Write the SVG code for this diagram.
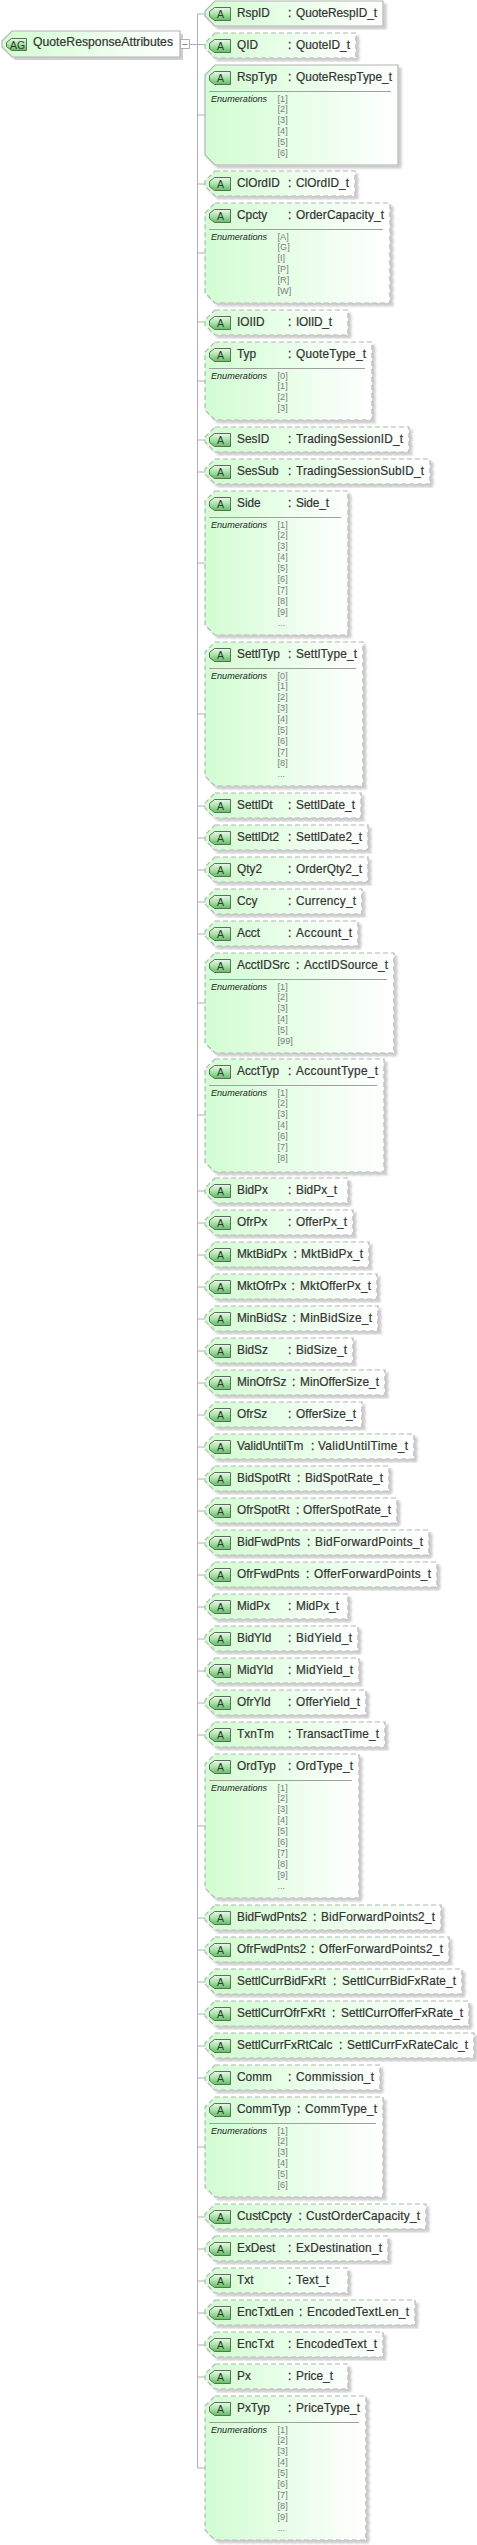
<svg xmlns="http://www.w3.org/2000/svg" width="477" height="2545" viewBox="0 0 477 2545">
<style>
text{font-family:"Liberation Sans",Arial,sans-serif;fill:#333}
.t{font-size:11.85px;stroke:#333;stroke-width:.2}
.k{font-size:11.85px;stroke:#333;stroke-width:.3}
.a{font-size:10.5px;text-anchor:middle;fill:#2a3a2a}
.b{fill:url(#fill);stroke:#b4b4b4;stroke-width:1.2;filter:url(#sh)}
.d{stroke-dasharray:5 3}
.e{font-size:9.1px;font-style:italic;fill:#222}
.v{font-size:9.2px;fill:#7c7c7c}
.r{stroke:#a0a0a0;stroke-width:1}
.c{stroke:#b0b0b0;stroke-width:1;fill:none}
.i{fill:url(#bdg);stroke:#5c6e5c;stroke-width:1}
</style>
<defs>
<linearGradient id="fill" x1="0" y1="0" x2="1" y2="0"><stop offset="0" stop-color="#d2fdd2"/><stop offset="1" stop-color="#ffffff"/></linearGradient>
<linearGradient id="bdg" x1="0" y1="0" x2="0" y2="1"><stop offset="0" stop-color="#eef8ee"/><stop offset="0.5" stop-color="#a8e2a8"/><stop offset="1" stop-color="#62bb62"/></linearGradient>
<filter id="sh" x="-5%" y="-10%" width="112%" height="125%"><feDropShadow dx="3" dy="3" stdDeviation="1" flood-color="#000" flood-opacity="0.2"/></filter>
<polygon id="badge" class="i" points="214.5,6.5 230.5,6.5 230.5,19.5 214.5,19.5 209.5,15.5 209.5,10.5"/>
</defs>
<g id="connectors">
<path class="c" d="M197.5 14V2468M190 44.5H205M197.5 14H205M197.5 115H205M197.5 184H205M197.5 253H205M197.5 322H205M197.5 381H205M197.5 440H205M197.5 472H205M197.5 563H205M197.5 714H205M197.5 806H205M197.5 838H205M197.5 870H205M197.5 902H205M197.5 934H205M197.5 1003H205M197.5 1115H205M197.5 1191H205M197.5 1223H205M197.5 1255H205M197.5 1287H205M197.5 1319H205M197.5 1351H205M197.5 1383H205M197.5 1415H205M197.5 1447H205M197.5 1479H205M197.5 1511H205M197.5 1543H205M197.5 1575H205M197.5 1607H205M197.5 1639H205M197.5 1671H205M197.5 1703H205M197.5 1735H205M197.5 1826H205M197.5 1918H205M197.5 1950H205M197.5 1982H205M197.5 2014H205M197.5 2046H205M197.5 2078H205M197.5 2147H205M197.5 2217H205M197.5 2249H205M197.5 2281H205M197.5 2313H205M197.5 2345H205M197.5 2377H205M197.5 2468H205"/>
</g>
<g id="group-QuoteResponseAttributes">
<polygon points="15,34 183,34 183,60 15,60 5,50 5,44" fill="#cfcfcf"/>
<polygon points="12,31 180,31 180,57 12,57 2,47 2,41" fill="url(#fill)" stroke="#b4b4b4" stroke-width="1.2"/>
<polygon class="i" points="11.5,38.5 26.5,38.5 26.5,50.5 11.5,50.5 6.5,46.5 6.5,42.5"/>
<text class="a" x="17.5" y="49" font-size="11">AG</text>
<text x="33" y="46" font-size="12.2" textLength="140" stroke="#333" stroke-width=".2">QuoteResponseAttributes</text>
<rect x="180.5" y="39.5" width="9" height="9" fill="#fff" stroke="#b0b0b0"/>
<path d="M182.5 44.5H187.5" stroke="#888"/>
</g>
<g id="n-RspID"><polygon class="b" points="215,1 383,1 383,26 215,26 205,16 205,11"/><use href="#badge" y="1"/><text class="a" x="220.5" y="18">A</text><text class="t" x="237" y="17">RspID</text><text class="k" x="288" y="17">:</text><text class="t" x="296" y="17" textLength="81">QuoteRespID_t</text></g>
<g id="n-QID"><polygon class="b d" points="215,33 356,33 356,58 215,58 205,48 205,43"/><use href="#badge" y="33"/><text class="a" x="220.5" y="50">A</text><text class="t" x="237" y="49">QID</text><text class="k" x="288" y="49">:</text><text class="t" x="296" y="49" textLength="54">QuoteID_t</text></g>
<g id="n-RspTyp"><polygon class="b" points="215,65 398,65 398,165 215,165 205,155 205,75"/><use href="#badge" y="65"/><text class="a" x="220.5" y="82">A</text><text class="t" x="237" y="81">RspTyp</text><text class="k" x="288" y="81">:</text><text class="t" x="296" y="81" textLength="96">QuoteRespType_t</text><path class="r" d="M209 91.5H391"/><text class="e" x="211" y="102">Enumerations</text><text class="v" x="277.5" y="102">[1]</text><text class="v" x="277.5" y="112">[2]</text><text class="v" x="277.5" y="123">[3]</text><text class="v" x="277.5" y="134">[4]</text><text class="v" x="277.5" y="145">[5]</text><text class="v" x="277.5" y="156">[6]</text></g>
<g id="n-ClOrdID"><polygon class="b d" points="215,171 355,171 355,196 215,196 205,186 205,181"/><use href="#badge" y="171"/><text class="a" x="220.5" y="188">A</text><text class="t" x="237" y="187">ClOrdID</text><text class="k" x="288" y="187">:</text><text class="t" x="296" y="187" textLength="53">ClOrdID_t</text></g>
<g id="n-Cpcty"><polygon class="b d" points="215,203 390,203 390,303 215,303 205,293 205,213"/><use href="#badge" y="203"/><text class="a" x="220.5" y="220">A</text><text class="t" x="237" y="219">Cpcty</text><text class="k" x="288" y="219">:</text><text class="t" x="296" y="219" textLength="88">OrderCapacity_t</text><path class="r" d="M209 229.5H383"/><text class="e" x="211" y="240">Enumerations</text><text class="v" x="277.5" y="240">[A]</text><text class="v" x="277.5" y="250">[G]</text><text class="v" x="277.5" y="261">[I]</text><text class="v" x="277.5" y="272">[P]</text><text class="v" x="277.5" y="283">[R]</text><text class="v" x="277.5" y="294">[W]</text></g>
<g id="n-IOIID"><polygon class="b d" points="215,310 348,310 348,335 215,335 205,325 205,320"/><use href="#badge" y="310"/><text class="a" x="220.5" y="327">A</text><text class="t" x="237" y="326">IOIID</text><text class="k" x="288" y="326">:</text><text class="t" x="296" y="326" textLength="36">IOIID_t</text></g>
<g id="n-Typ"><polygon class="b d" points="215,342 372,342 372,420 215,420 205,410 205,352"/><use href="#badge" y="342"/><text class="a" x="220.5" y="359">A</text><text class="t" x="237" y="358">Typ</text><text class="k" x="288" y="358">:</text><text class="t" x="296" y="358" textLength="70">QuoteType_t</text><path class="r" d="M209 368.5H365"/><text class="e" x="211" y="379">Enumerations</text><text class="v" x="277.5" y="379">[0]</text><text class="v" x="277.5" y="389">[1]</text><text class="v" x="277.5" y="400">[2]</text><text class="v" x="277.5" y="411">[3]</text></g>
<g id="n-SesID"><polygon class="b d" points="215,427 409,427 409,452 215,452 205,442 205,437"/><use href="#badge" y="427"/><text class="a" x="220.5" y="444">A</text><text class="t" x="237" y="443">SesID</text><text class="k" x="288" y="443">:</text><text class="t" x="296" y="443" textLength="107">TradingSessionID_t</text></g>
<g id="n-SesSub"><polygon class="b d" points="215,459 430,459 430,484 215,484 205,474 205,469"/><use href="#badge" y="459"/><text class="a" x="220.5" y="476">A</text><text class="t" x="237" y="475">SesSub</text><text class="k" x="288" y="475">:</text><text class="t" x="296" y="475" textLength="128">TradingSessionSubID_t</text></g>
<g id="n-Side"><polygon class="b d" points="215,491 348,491 348,635 215,635 205,625 205,501"/><use href="#badge" y="491"/><text class="a" x="220.5" y="508">A</text><text class="t" x="237" y="507">Side</text><text class="k" x="288" y="507">:</text><text class="t" x="296" y="507" textLength="33">Side_t</text><path class="r" d="M209 517.5H341"/><text class="e" x="211" y="528">Enumerations</text><text class="v" x="277.5" y="528">[1]</text><text class="v" x="277.5" y="538">[2]</text><text class="v" x="277.5" y="549">[3]</text><text class="v" x="277.5" y="560">[4]</text><text class="v" x="277.5" y="571">[5]</text><text class="v" x="277.5" y="582">[6]</text><text class="v" x="277.5" y="593">[7]</text><text class="v" x="277.5" y="604">[8]</text><text class="v" x="277.5" y="615">[9]</text><text class="v" x="277.5" y="626">...</text></g>
<g id="n-SettlTyp"><polygon class="b d" points="215,642 363,642 363,786 215,786 205,776 205,652"/><use href="#badge" y="642"/><text class="a" x="220.5" y="659">A</text><text class="t" x="237" y="658">SettlTyp</text><text class="k" x="288" y="658">:</text><text class="t" x="296" y="658" textLength="61">SettlType_t</text><path class="r" d="M209 668.5H356"/><text class="e" x="211" y="679">Enumerations</text><text class="v" x="277.5" y="679">[0]</text><text class="v" x="277.5" y="689">[1]</text><text class="v" x="277.5" y="700">[2]</text><text class="v" x="277.5" y="711">[3]</text><text class="v" x="277.5" y="722">[4]</text><text class="v" x="277.5" y="733">[5]</text><text class="v" x="277.5" y="744">[6]</text><text class="v" x="277.5" y="755">[7]</text><text class="v" x="277.5" y="766">[8]</text><text class="v" x="277.5" y="777">...</text></g>
<g id="n-SettlDt"><polygon class="b d" points="215,793 361,793 361,818 215,818 205,808 205,803"/><use href="#badge" y="793"/><text class="a" x="220.5" y="810">A</text><text class="t" x="237" y="809">SettlDt</text><text class="k" x="288" y="809">:</text><text class="t" x="296" y="809" textLength="59">SettlDate_t</text></g>
<g id="n-SettlDt2"><polygon class="b d" points="215,825 368,825 368,850 215,850 205,840 205,835"/><use href="#badge" y="825"/><text class="a" x="220.5" y="842">A</text><text class="t" x="237" y="841">SettlDt2</text><text class="k" x="288" y="841">:</text><text class="t" x="296" y="841" textLength="66">SettlDate2_t</text></g>
<g id="n-Qty2"><polygon class="b d" points="215,857 368,857 368,882 215,882 205,872 205,867"/><use href="#badge" y="857"/><text class="a" x="220.5" y="874">A</text><text class="t" x="237" y="873">Qty2</text><text class="k" x="288" y="873">:</text><text class="t" x="296" y="873" textLength="66">OrderQty2_t</text></g>
<g id="n-Ccy"><polygon class="b d" points="215,889 362,889 362,914 215,914 205,904 205,899"/><use href="#badge" y="889"/><text class="a" x="220.5" y="906">A</text><text class="t" x="237" y="905">Ccy</text><text class="k" x="288" y="905">:</text><text class="t" x="296" y="905" textLength="60">Currency_t</text></g>
<g id="n-Acct"><polygon class="b d" points="215,921 358,921 358,946 215,946 205,936 205,931"/><use href="#badge" y="921"/><text class="a" x="220.5" y="938">A</text><text class="t" x="237" y="937">Acct</text><text class="k" x="288" y="937">:</text><text class="t" x="296" y="937" textLength="56">Account_t</text></g>
<g id="n-AcctIDSrc"><polygon class="b d" points="215,953 394,953 394,1053 215,1053 205,1043 205,963"/><use href="#badge" y="953"/><text class="a" x="220.5" y="970">A</text><text class="t" x="237" y="969">AcctIDSrc</text><text class="k" x="296" y="969">:</text><text class="t" x="304" y="969" textLength="84">AcctIDSource_t</text><path class="r" d="M209 979.5H387"/><text class="e" x="211" y="990">Enumerations</text><text class="v" x="277.5" y="990">[1]</text><text class="v" x="277.5" y="1000">[2]</text><text class="v" x="277.5" y="1011">[3]</text><text class="v" x="277.5" y="1022">[4]</text><text class="v" x="277.5" y="1033">[5]</text><text class="v" x="277.5" y="1044">[99]</text></g>
<g id="n-AcctTyp"><polygon class="b d" points="215,1059 384,1059 384,1172 215,1172 205,1162 205,1069"/><use href="#badge" y="1059"/><text class="a" x="220.5" y="1076">A</text><text class="t" x="237" y="1075">AcctTyp</text><text class="k" x="288" y="1075">:</text><text class="t" x="296" y="1075" textLength="82">AccountType_t</text><path class="r" d="M209 1085.5H377"/><text class="e" x="211" y="1096">Enumerations</text><text class="v" x="277.5" y="1096">[1]</text><text class="v" x="277.5" y="1106">[2]</text><text class="v" x="277.5" y="1117">[3]</text><text class="v" x="277.5" y="1128">[4]</text><text class="v" x="277.5" y="1139">[6]</text><text class="v" x="277.5" y="1150">[7]</text><text class="v" x="277.5" y="1161">[8]</text></g>
<g id="n-BidPx"><polygon class="b d" points="215,1178 348,1178 348,1203 215,1203 205,1193 205,1188"/><use href="#badge" y="1178"/><text class="a" x="220.5" y="1195">A</text><text class="t" x="237" y="1194">BidPx</text><text class="k" x="288" y="1194">:</text><text class="t" x="296" y="1194" textLength="41">BidPx_t</text></g>
<g id="n-OfrPx"><polygon class="b d" points="215,1210 353,1210 353,1235 215,1235 205,1225 205,1220"/><use href="#badge" y="1210"/><text class="a" x="220.5" y="1227">A</text><text class="t" x="237" y="1226">OfrPx</text><text class="k" x="288" y="1226">:</text><text class="t" x="296" y="1226" textLength="51">OfferPx_t</text></g>
<g id="n-MktBidPx"><polygon class="b d" points="215,1242 369,1242 369,1267 215,1267 205,1257 205,1252"/><use href="#badge" y="1242"/><text class="a" x="220.5" y="1259">A</text><text class="t" x="237" y="1258">MktBidPx</text><text class="k" x="293.500" y="1258">:</text><text class="t" x="301" y="1258" textLength="62">MktBidPx_t</text></g>
<g id="n-MktOfrPx"><polygon class="b d" points="215,1274 377,1274 377,1299 215,1299 205,1289 205,1284"/><use href="#badge" y="1274"/><text class="a" x="220.5" y="1291">A</text><text class="t" x="237" y="1290">MktOfrPx</text><text class="k" x="291.500" y="1290">:</text><text class="t" x="300" y="1290" textLength="71">MktOfferPx_t</text></g>
<g id="n-MinBidSz"><polygon class="b d" points="215,1306 378,1306 378,1331 215,1331 205,1321 205,1316"/><use href="#badge" y="1306"/><text class="a" x="220.5" y="1323">A</text><text class="t" x="237" y="1322">MinBidSz</text><text class="k" x="292.500" y="1322">:</text><text class="t" x="300" y="1322" textLength="72">MinBidSize_t</text></g>
<g id="n-BidSz"><polygon class="b d" points="215,1338 353,1338 353,1363 215,1363 205,1353 205,1348"/><use href="#badge" y="1338"/><text class="a" x="220.5" y="1355">A</text><text class="t" x="237" y="1354">BidSz</text><text class="k" x="288" y="1354">:</text><text class="t" x="296" y="1354" textLength="51">BidSize_t</text></g>
<g id="n-MinOfrSz"><polygon class="b d" points="215,1370 385,1370 385,1395 215,1395 205,1385 205,1380"/><use href="#badge" y="1370"/><text class="a" x="220.5" y="1387">A</text><text class="t" x="237" y="1386">MinOfrSz</text><text class="k" x="292" y="1386">:</text><text class="t" x="300" y="1386" textLength="79">MinOfferSize_t</text></g>
<g id="n-OfrSz"><polygon class="b d" points="215,1402 362,1402 362,1427 215,1427 205,1417 205,1412"/><use href="#badge" y="1402"/><text class="a" x="220.5" y="1419">A</text><text class="t" x="237" y="1418">OfrSz</text><text class="k" x="288" y="1418">:</text><text class="t" x="296" y="1418" textLength="60">OfferSize_t</text></g>
<g id="n-ValidUntilTm"><polygon class="b d" points="215,1434 414,1434 414,1459 215,1459 205,1449 205,1444"/><use href="#badge" y="1434"/><text class="a" x="220.5" y="1451">A</text><text class="t" x="237" y="1450">ValidUntilTm</text><text class="k" x="311" y="1450">:</text><text class="t" x="318" y="1450" textLength="90">ValidUntilTime_t</text></g>
<g id="n-BidSpotRt"><polygon class="b d" points="215,1466 389,1466 389,1491 215,1491 205,1481 205,1476"/><use href="#badge" y="1466"/><text class="a" x="220.5" y="1483">A</text><text class="t" x="237" y="1482">BidSpotRt</text><text class="k" x="297" y="1482">:</text><text class="t" x="305" y="1482" textLength="78">BidSpotRate_t</text></g>
<g id="n-OfrSpotRt"><polygon class="b d" points="215,1498 397,1498 397,1523 215,1523 205,1513 205,1508"/><use href="#badge" y="1498"/><text class="a" x="220.5" y="1515">A</text><text class="t" x="237" y="1514">OfrSpotRt</text><text class="k" x="296" y="1514">:</text><text class="t" x="303" y="1514" textLength="88">OfferSpotRate_t</text></g>
<g id="n-BidFwdPnts"><polygon class="b d" points="215,1530 429,1530 429,1555 215,1555 205,1545 205,1540"/><use href="#badge" y="1530"/><text class="a" x="220.5" y="1547">A</text><text class="t" x="237" y="1546">BidFwdPnts</text><text class="k" x="307" y="1546">:</text><text class="t" x="315" y="1546" textLength="108">BidForwardPoints_t</text></g>
<g id="n-OfrFwdPnts"><polygon class="b d" points="215,1562 437,1562 437,1587 215,1587 205,1577 205,1572"/><use href="#badge" y="1562"/><text class="a" x="220.5" y="1579">A</text><text class="t" x="237" y="1578">OfrFwdPnts</text><text class="k" x="306" y="1578">:</text><text class="t" x="314" y="1578" textLength="117">OfferForwardPoints_t</text></g>
<g id="n-MidPx"><polygon class="b d" points="215,1594 348,1594 348,1619 215,1619 205,1609 205,1604"/><use href="#badge" y="1594"/><text class="a" x="220.5" y="1611">A</text><text class="t" x="237" y="1610">MidPx</text><text class="k" x="288" y="1610">:</text><text class="t" x="296" y="1610" textLength="43">MidPx_t</text></g>
<g id="n-BidYld"><polygon class="b d" points="215,1626 358,1626 358,1651 215,1651 205,1641 205,1636"/><use href="#badge" y="1626"/><text class="a" x="220.5" y="1643">A</text><text class="t" x="237" y="1642">BidYld</text><text class="k" x="288" y="1642">:</text><text class="t" x="296" y="1642" textLength="56">BidYield_t</text></g>
<g id="n-MidYld"><polygon class="b d" points="215,1658 359,1658 359,1683 215,1683 205,1673 205,1668"/><use href="#badge" y="1658"/><text class="a" x="220.5" y="1675">A</text><text class="t" x="237" y="1674">MidYld</text><text class="k" x="288" y="1674">:</text><text class="t" x="296" y="1674" textLength="57">MidYield_t</text></g>
<g id="n-OfrYld"><polygon class="b d" points="215,1690 366,1690 366,1715 215,1715 205,1705 205,1700"/><use href="#badge" y="1690"/><text class="a" x="220.5" y="1707">A</text><text class="t" x="237" y="1706">OfrYld</text><text class="k" x="288" y="1706">:</text><text class="t" x="296" y="1706" textLength="64">OfferYield_t</text></g>
<g id="n-TxnTm"><polygon class="b d" points="215,1722 385,1722 385,1747 215,1747 205,1737 205,1732"/><use href="#badge" y="1722"/><text class="a" x="220.5" y="1739">A</text><text class="t" x="237" y="1738">TxnTm</text><text class="k" x="288" y="1738">:</text><text class="t" x="296" y="1738" textLength="83">TransactTime_t</text></g>
<g id="n-OrdTyp"><polygon class="b d" points="215,1754 359,1754 359,1898 215,1898 205,1888 205,1764"/><use href="#badge" y="1754"/><text class="a" x="220.5" y="1771">A</text><text class="t" x="237" y="1770">OrdTyp</text><text class="k" x="288" y="1770">:</text><text class="t" x="296" y="1770" textLength="57">OrdType_t</text><path class="r" d="M209 1780.500H352"/><text class="e" x="211" y="1791">Enumerations</text><text class="v" x="277.5" y="1791">[1]</text><text class="v" x="277.5" y="1801">[2]</text><text class="v" x="277.5" y="1812">[3]</text><text class="v" x="277.5" y="1823">[4]</text><text class="v" x="277.5" y="1834">[5]</text><text class="v" x="277.5" y="1845">[6]</text><text class="v" x="277.5" y="1856">[7]</text><text class="v" x="277.5" y="1867">[8]</text><text class="v" x="277.5" y="1878">[9]</text><text class="v" x="277.5" y="1889">...</text></g>
<g id="n-BidFwdPnts2"><polygon class="b d" points="215,1905 441,1905 441,1930 215,1930 205,1920 205,1915"/><use href="#badge" y="1905"/><text class="a" x="220.5" y="1922">A</text><text class="t" x="237" y="1921">BidFwdPnts2</text><text class="k" x="313" y="1921">:</text><text class="t" x="321" y="1921" textLength="114">BidForwardPoints2_t</text></g>
<g id="n-OfrFwdPnts2"><polygon class="b d" points="215,1937 449,1937 449,1962 215,1962 205,1952 205,1947"/><use href="#badge" y="1937"/><text class="a" x="220.5" y="1954">A</text><text class="t" x="237" y="1953">OfrFwdPnts2</text><text class="k" x="311" y="1953">:</text><text class="t" x="319" y="1953" textLength="124">OfferForwardPoints2_t</text></g>
<g id="n-SettlCurrBidFxRt"><polygon class="b d" points="215,1969 462,1969 462,1994 215,1994 205,1984 205,1979"/><use href="#badge" y="1969"/><text class="a" x="220.5" y="1986">A</text><text class="t" x="237" y="1985">SettlCurrBidFxRt</text><text class="k" x="333" y="1985">:</text><text class="t" x="342" y="1985" textLength="114">SettlCurrBidFxRate_t</text></g>
<g id="n-SettlCurrOfrFxRt"><polygon class="b d" points="215,2001 469,2001 469,2026 215,2026 205,2016 205,2011"/><use href="#badge" y="2001"/><text class="a" x="220.5" y="2018">A</text><text class="t" x="237" y="2017">SettlCurrOfrFxRt</text><text class="k" x="332" y="2017">:</text><text class="t" x="341" y="2017" textLength="122">SettlCurrOfferFxRate_t</text></g>
<g id="n-SettlCurrFxRtCalc"><polygon class="b d" points="215,2033 474,2033 474,2058 215,2058 205,2048 205,2043"/><use href="#badge" y="2033"/><text class="a" x="220.5" y="2050">A</text><text class="t" x="237" y="2049">SettlCurrFxRtCalc</text><text class="k" x="339" y="2049">:</text><text class="t" x="347" y="2049" textLength="121">SettlCurrFxRateCalc_t</text></g>
<g id="n-Comm"><polygon class="b d" points="215,2065 380,2065 380,2090 215,2090 205,2080 205,2075"/><use href="#badge" y="2065"/><text class="a" x="220.5" y="2082">A</text><text class="t" x="237" y="2081">Comm</text><text class="k" x="288" y="2081">:</text><text class="t" x="296" y="2081" textLength="78">Commission_t</text></g>
<g id="n-CommTyp"><polygon class="b d" points="215,2097 383,2097 383,2197 215,2197 205,2187 205,2107"/><use href="#badge" y="2097"/><text class="a" x="220.5" y="2114">A</text><text class="t" x="237" y="2113">CommTyp</text><text class="k" x="297" y="2113">:</text><text class="t" x="305" y="2113" textLength="72">CommType_t</text><path class="r" d="M209 2123.500H376"/><text class="e" x="211" y="2134">Enumerations</text><text class="v" x="277.5" y="2134">[1]</text><text class="v" x="277.5" y="2144">[2]</text><text class="v" x="277.5" y="2155">[3]</text><text class="v" x="277.5" y="2166">[4]</text><text class="v" x="277.5" y="2177">[5]</text><text class="v" x="277.5" y="2188">[6]</text></g>
<g id="n-CustCpcty"><polygon class="b d" points="215,2204 426,2204 426,2229 215,2229 205,2219 205,2214"/><use href="#badge" y="2204"/><text class="a" x="220.5" y="2221">A</text><text class="t" x="237" y="2220">CustCpcty</text><text class="k" x="298.500" y="2220">:</text><text class="t" x="306" y="2220" textLength="114">CustOrderCapacity_t</text></g>
<g id="n-ExDest"><polygon class="b d" points="215,2236 388,2236 388,2261 215,2261 205,2251 205,2246"/><use href="#badge" y="2236"/><text class="a" x="220.5" y="2253">A</text><text class="t" x="237" y="2252">ExDest</text><text class="k" x="288" y="2252">:</text><text class="t" x="296" y="2252" textLength="86">ExDestination_t</text></g>
<g id="n-Txt"><polygon class="b d" points="215,2268 348,2268 348,2293 215,2293 205,2283 205,2278"/><use href="#badge" y="2268"/><text class="a" x="220.5" y="2285">A</text><text class="t" x="237" y="2284">Txt</text><text class="k" x="288" y="2284">:</text><text class="t" x="296" y="2284" textLength="33">Text_t</text></g>
<g id="n-EncTxtLen"><polygon class="b d" points="215,2300 415,2300 415,2325 215,2325 205,2315 205,2310"/><use href="#badge" y="2300"/><text class="a" x="220.5" y="2317">A</text><text class="t" x="237" y="2316">EncTxtLen</text><text class="k" x="299" y="2316">:</text><text class="t" x="307" y="2316" textLength="102">EncodedTextLen_t</text></g>
<g id="n-EncTxt"><polygon class="b d" points="215,2332 383,2332 383,2357 215,2357 205,2347 205,2342"/><use href="#badge" y="2332"/><text class="a" x="220.5" y="2349">A</text><text class="t" x="237" y="2348">EncTxt</text><text class="k" x="288" y="2348">:</text><text class="t" x="296" y="2348" textLength="81">EncodedText_t</text></g>
<g id="n-Px"><polygon class="b d" points="215,2364 348,2364 348,2389 215,2389 205,2379 205,2374"/><use href="#badge" y="2364"/><text class="a" x="220.5" y="2381">A</text><text class="t" x="237" y="2380">Px</text><text class="k" x="288" y="2380">:</text><text class="t" x="296" y="2380" textLength="37">Price_t</text></g>
<g id="n-PxTyp"><polygon class="b d" points="215,2396 366,2396 366,2540 215,2540 205,2530 205,2406"/><use href="#badge" y="2396"/><text class="a" x="220.5" y="2413">A</text><text class="t" x="237" y="2412">PxTyp</text><text class="k" x="288" y="2412">:</text><text class="t" x="296" y="2412" textLength="64">PriceType_t</text><path class="r" d="M209 2422.500H359"/><text class="e" x="211" y="2433">Enumerations</text><text class="v" x="277.5" y="2433">[1]</text><text class="v" x="277.5" y="2443">[2]</text><text class="v" x="277.5" y="2454">[3]</text><text class="v" x="277.5" y="2465">[4]</text><text class="v" x="277.5" y="2476">[5]</text><text class="v" x="277.5" y="2487">[6]</text><text class="v" x="277.5" y="2498">[7]</text><text class="v" x="277.5" y="2509">[8]</text><text class="v" x="277.5" y="2520">[9]</text><text class="v" x="277.5" y="2531">...</text></g>
</svg>
